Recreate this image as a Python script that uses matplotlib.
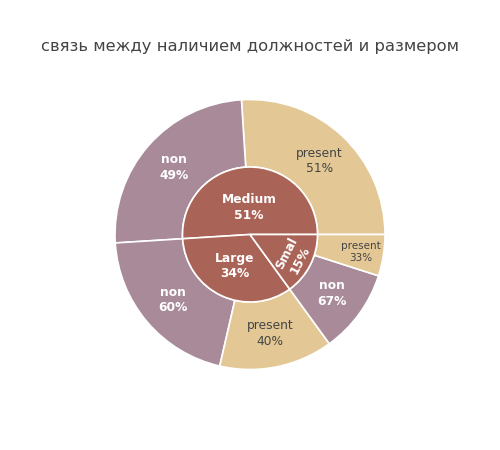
import numpy as np
import matplotlib.pyplot as plt

# размер компании -> доля
sizes = ["Medium", "Large", "Smal"]
size_share = [51, 34, 15]

# внутри каждой группы: наличие должностей
child_labels = [["present", "non"], ["non", "present"], ["non", "present"]]
child_share = [[51, 49], [60, 40], [67, 33]]

c_inner = "#AA6457"
c_non = "#A88A99"
c_present = "#E3C896"

fig = plt.figure(figsize=(5, 4.5), dpi=100)
ax = fig.add_axes([0, 0, 1, 1])

R = 135
W = 67.5

# внешнее кольцо
outer_vals = []
outer_cols = []
outer_text = []
for s, labs, sh in zip(size_share, child_labels, child_share):
    for l, v in zip(labs, sh):
        outer_vals.append(s * v / 100.0)
        outer_cols.append(c_present if l == "present" else c_non)
        outer_text.append((l, v))

ax.pie(outer_vals, radius=R, startangle=0, colors=outer_cols,
       wedgeprops=dict(width=W, edgecolor="white", linewidth=1.2))
ax.pie(size_share, radius=R - W, startangle=0, colors=[c_inner] * 3,
       wedgeprops=dict(edgecolor="white", linewidth=1.2))

ax.set_xlim(-250, 250)
ax.set_ylim(-215.5, 234.5)
ax.set_aspect("equal")
ax.axis("off")

# подписи внешнего кольца
start = 0
tot = sum(outer_vals)
for v, (l, p) in zip(outer_vals, outer_text):
    span = 360.0 * v / tot
    mid = np.deg2rad(start + span / 2)
    small = span < 25
    r = 112 if small else 101
    fs = 7.5 if small else 8.8
    col = "#444444" if l == "present" else "white"
    fw = "normal" if l == "present" else "bold"
    ax.text(r * np.cos(mid), r * np.sin(mid), f"{l}\n{p}%", ha="center",
            va="center", color=col, fontsize=fs, fontweight=fw, linespacing=1.25)
    start += span

# подписи внутреннего круга
start = 0
inner_r = [27, 35, 49]
for name, s, r in zip(sizes, size_share, inner_r):
    span = 360.0 * s / sum(size_share)
    mid = start + span / 2
    rot = 0
    if span < 90:
        rot = mid + 90 - 360
    m = np.deg2rad(mid)
    ax.text(r * np.cos(m), r * np.sin(m), f"{name}\n{s}%", ha="center",
            va="center", color="white", fontsize=8.8, fontweight="bold",
            rotation=rot, rotation_mode="anchor", linespacing=1.25)
    start += span

fig.text(0.5, 1 - 46 / 450, "связь между наличием должностей и размером",
         ha="center", va="center", fontsize=11.8, color="#444444")

fig.savefig("out.png", dpi=100)
